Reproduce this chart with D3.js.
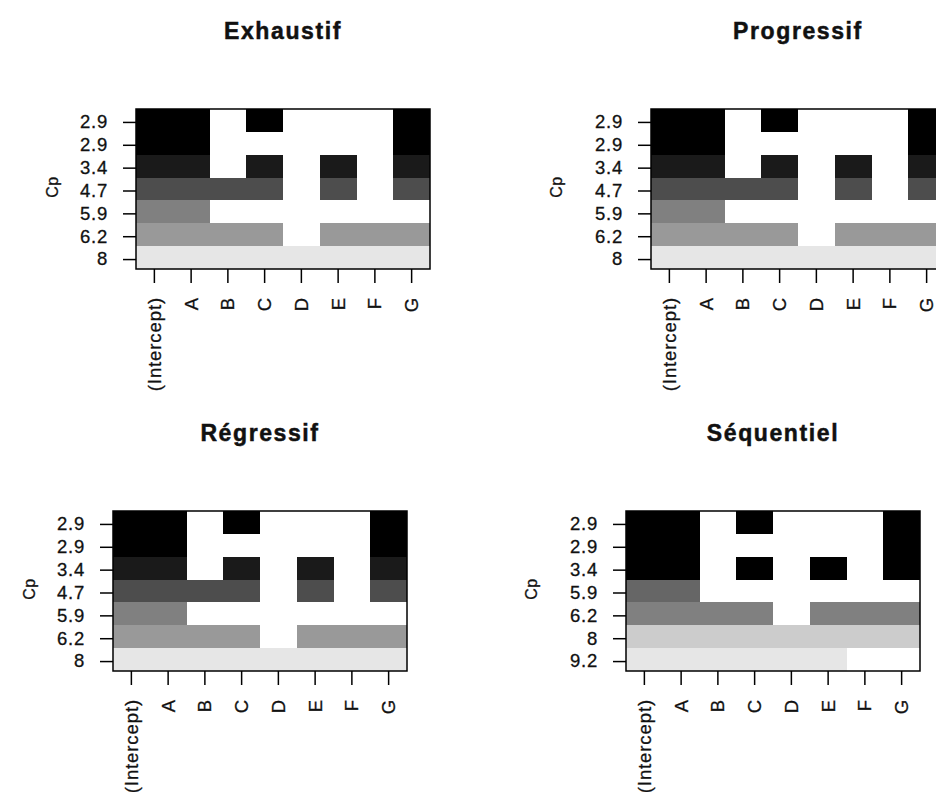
<!DOCTYPE html>
<html><head><meta charset="utf-8">
<script src="https://cdn.jsdelivr.net/npm/d3@7"></script>
<style>body{margin:0;background:#fff} svg{display:block}</style>
</head><body><svg id="chart" width="936" height="792"></svg>
<script>
// ---- data ----
const variables = ["(Intercept)","A","B","C","D","E","F","G"];

const exhaustifCp    = ["2.9","2.9","3.4","4.7","5.9","6.2","8"];
const exhaustifShade = [0, 0, 0.1, 0.3, 0.5, 0.6, 0.9];
const exhaustifWhich = [
  [1,1,0,1,0,0,0,1],
  [1,1,0,0,0,0,0,1],
  [1,1,0,1,0,1,0,1],
  [1,1,1,1,0,1,0,1],
  [1,1,0,0,0,0,0,0],
  [1,1,1,1,0,1,1,1],
  [1,1,1,1,1,1,1,1]
];

const progressifCp    = ["2.9","2.9","3.4","4.7","5.9","6.2","8"];
const progressifShade = [0, 0, 0.1, 0.3, 0.5, 0.6, 0.9];
const progressifWhich = [
  [1,1,0,1,0,0,0,1],
  [1,1,0,0,0,0,0,1],
  [1,1,0,1,0,1,0,1],
  [1,1,1,1,0,1,0,1],
  [1,1,0,0,0,0,0,0],
  [1,1,1,1,0,1,1,1],
  [1,1,1,1,1,1,1,1]
];

const regressifCp    = ["2.9","2.9","3.4","4.7","5.9","6.2","8"];
const regressifShade = [0, 0, 0.1, 0.3, 0.5, 0.6, 0.9];
const regressifWhich = [
  [1,1,0,1,0,0,0,1],
  [1,1,0,0,0,0,0,1],
  [1,1,0,1,0,1,0,1],
  [1,1,1,1,0,1,0,1],
  [1,1,0,0,0,0,0,0],
  [1,1,1,1,0,1,1,1],
  [1,1,1,1,1,1,1,1]
];

const sequentielCp    = ["2.9","2.9","3.4","5.9","6.2","8","9.2"];
const sequentielShade = [0, 0, 0, 0.4, 0.5, 0.8, 0.9];
const sequentielWhich = [
  [1,1,0,1,0,0,0,1],
  [1,1,0,0,0,0,0,1],
  [1,1,0,1,0,1,0,1],
  [1,1,0,0,0,0,0,0],
  [1,1,1,1,0,1,1,1],
  [1,1,1,1,1,1,1,1],
  [1,1,1,1,1,1,0,0]
];

// ---- layout ----
const panels = [
  {title:"Exhaustif",  cp:exhaustifCp,  shade:exhaustifShade,  which:exhaustifWhich,  x:136, y:109, ylabX:52,  titleY:39},
  {title:"Progressif", cp:progressifCp, shade:progressifShade, which:progressifWhich, x:651, y:109, ylabX:556, titleY:39},
  {title:"Régressif",  cp:regressifCp,  shade:regressifShade,  which:regressifWhich,  x:113, y:511, ylabX:29,  titleY:441},
  {title:"Séquentiel", cp:sequentielCp, shade:sequentielShade, which:sequentielWhich, x:626, y:511, ylabX:531, titleY:441}
];
const W = 294, H = 160;
const FONT = "'Liberation Sans', Arial, Helvetica, sans-serif";
const TXT = "#111";

const svg = d3.select("#chart");
svg.append("rect").attr("width",936).attr("height",792).attr("fill","#fff");

const grey = lv => { const v = Math.round(255*lv); return d3.rgb(v,v,v).toString(); };

panels.forEach(p => {
  const g = svg.append("g");
  const x = d3.scaleBand().domain(variables).range([p.x, p.x+W]);
  const y = d3.scaleBand().domain(d3.range(p.cp.length)).range([p.y, p.y+H]);

  // cells
  p.which.forEach((row, i) => {
    g.selectAll(null).data(row.map((v,j)=>({v, j})))
      .enter().append("rect")
      .attr("x", d => x(variables[d.j]))
      .attr("y", y(i))
      .attr("width", x.bandwidth())
      .attr("height", y.bandwidth())
      .attr("fill", d => d.v ? grey(p.shade[i]) : "#fff")
      .attr("shape-rendering","crispEdges");
  });

  // frame
  g.append("rect").attr("x",p.x).attr("y",p.y).attr("width",W).attr("height",H)
    .attr("fill","none").attr("stroke","#000").attr("stroke-width",1.5);

  // y axis
  const ya = g.append("g").attr("transform",`translate(${p.x},2)`)
    .call(d3.axisLeft(y).tickSize(13).tickPadding(15).tickFormat(i => p.cp[i]));
  ya.select(".domain").remove();
  ya.selectAll(".tick line").attr("stroke","#000").attr("stroke-width",1.5);
  ya.selectAll("text").attr("fill",TXT).attr("stroke",TXT).attr("stroke-width",0.3)
    .style("font-family",FONT).style("font-size","18.5px").style("letter-spacing","0.8px");

  // x axis
  const xa = g.append("g").attr("transform",`translate(0,${p.y+H})`)
    .call(d3.axisBottom(x).tickSize(14).tickPadding(14));
  xa.select(".domain").remove();
  xa.selectAll(".tick line").attr("stroke","#000").attr("stroke-width",1.5);
  xa.selectAll("text").attr("fill",TXT).attr("stroke",TXT).attr("stroke-width",0.3)
    .style("font-family",FONT).style("font-size","18.5px").style("letter-spacing","0.9px")
    .attr("transform","rotate(-90)").attr("text-anchor","end")
    .attr("x",-28).attr("y",0).attr("dy","0.35em");

  // y label
  g.append("text").attr("transform",`translate(${p.ylabX},${p.y+H/2-2}) rotate(-90)`)
    .attr("text-anchor","middle").attr("dy","0.35em")
    .attr("fill",TXT).attr("stroke",TXT).attr("stroke-width",0.3)
    .style("font-family",FONT).style("font-size","16px").style("letter-spacing","0.5px")
    .text("Cp");

  // title
  g.append("text").attr("x",p.x+W/2).attr("y",p.titleY)
    .attr("text-anchor","middle").attr("fill",TXT).attr("stroke",TXT).attr("stroke-width",0.5)
    .style("font-family",FONT).style("font-size","23px").style("font-weight","bold")
    .style("letter-spacing","1.6px").text(p.title);
});
</script></body></html>
